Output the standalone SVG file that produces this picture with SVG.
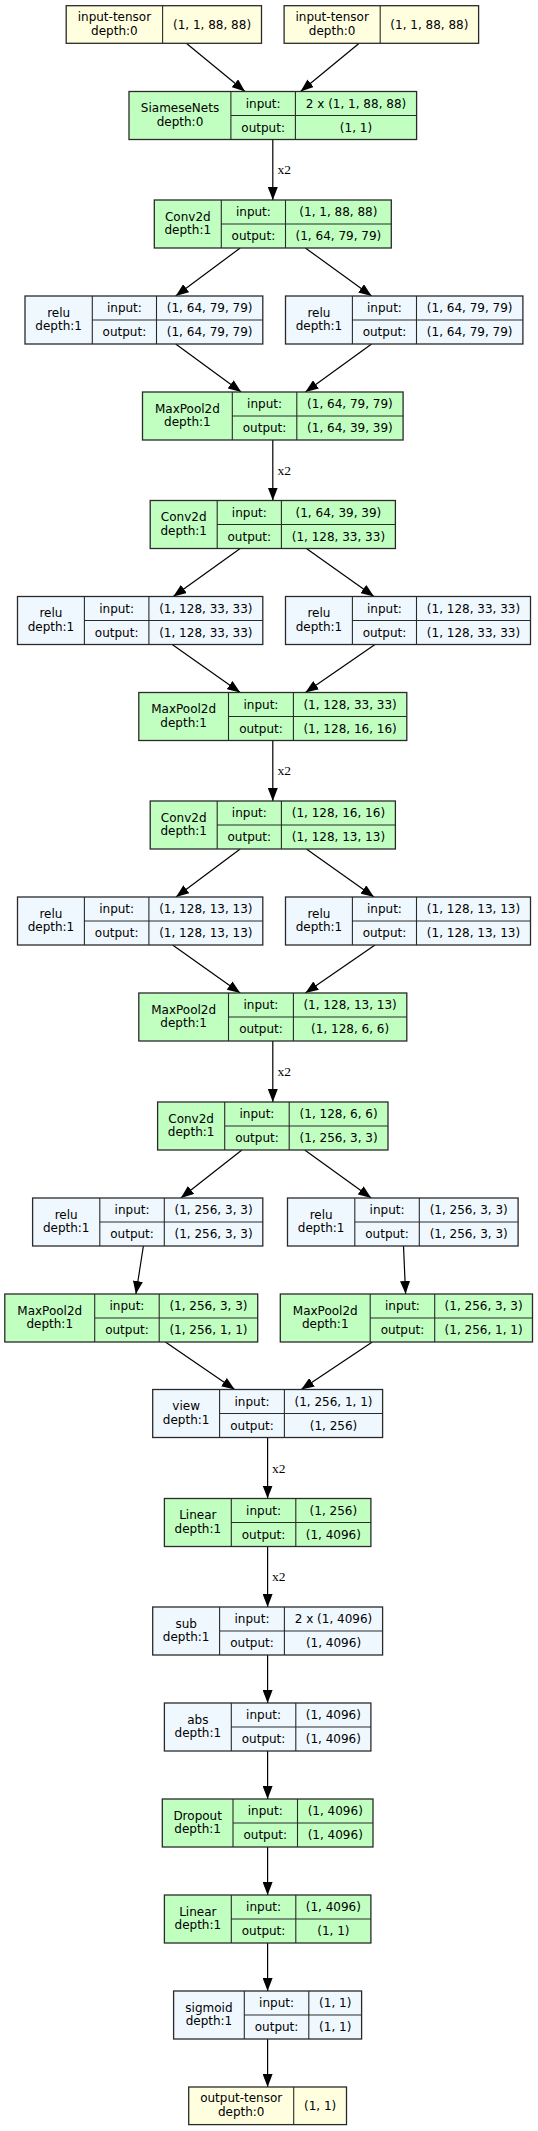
<svg xmlns="http://www.w3.org/2000/svg" width="538" height="2131" viewBox="0 0 538 2131">
<style>
.g{fill:#c1ffc1;stroke:#2a2a2a;stroke-width:1.3}
.b{fill:#f0f8ff;stroke:#2a2a2a;stroke-width:1.3}
.y{fill:#ffffe0;stroke:#2a2a2a;stroke-width:1.3}
.d{fill:none;stroke:#2a2a2a;stroke-width:1.1}
text{font-family:"DejaVu Sans","Liberation Sans",sans-serif;font-size:12px;text-anchor:middle;fill:#000}
.e line{stroke:#000;stroke-width:1.2;marker-end:url(#ah)}
.e text{font-family:"Liberation Serif","DejaVu Serif",serif;font-size:13.5px;text-anchor:start}
</style>
<defs>
<marker id="ah" markerUnits="userSpaceOnUse" markerWidth="13" markerHeight="10" refX="13" refY="5" orient="auto"><path d="M0,0 L13,5 L0,10 z" fill="#000"/></marker>
</defs>
<rect width="538" height="2131" fill="#fff"/>

<g id="edges" class="e">
<line x1="186.3" y1="43.3" x2="245" y2="91.5"/>
<line x1="359.2" y1="43.3" x2="300.6" y2="91.5"/>
<line x1="272.8" y1="139.5" x2="272.8" y2="200"/><text x="277.5" y="174">x2</text>
<line x1="240.2" y1="248" x2="175.7" y2="296"/>
<line x1="305.4" y1="248" x2="371.6" y2="296"/>
<line x1="175.7" y1="344" x2="241.2" y2="392"/>
<line x1="371.6" y1="344" x2="305.4" y2="392"/>
<line x1="272.8" y1="440" x2="272.8" y2="500.5"/><text x="277.5" y="474.5">x2</text>
<line x1="240.2" y1="548.5" x2="173.3" y2="596.5"/>
<line x1="306.4" y1="548.5" x2="374" y2="596.5"/>
<line x1="172.2" y1="644.5" x2="240.2" y2="692.5"/>
<line x1="375" y1="644.5" x2="305.4" y2="692.5"/>
<line x1="272.8" y1="740.5" x2="272.8" y2="801"/><text x="277.5" y="775">x2</text>
<line x1="240.2" y1="849" x2="176" y2="897"/>
<line x1="306.4" y1="849" x2="374" y2="897"/>
<line x1="172.6" y1="945" x2="240.2" y2="993"/>
<line x1="375" y1="945" x2="305.4" y2="993"/>
<line x1="272.8" y1="1041" x2="272.8" y2="1102"/><text x="277.5" y="1076">x2</text>
<line x1="241.9" y1="1150" x2="180.8" y2="1198"/>
<line x1="304.7" y1="1150" x2="371.2" y2="1198"/>
<line x1="143.4" y1="1246" x2="135.9" y2="1294"/>
<line x1="403.5" y1="1246" x2="405.6" y2="1294"/>
<line x1="165.4" y1="1342" x2="234.7" y2="1389.5"/>
<line x1="372.3" y1="1342" x2="301.2" y2="1389.5"/>
<line x1="267.6" y1="1437.5" x2="267.6" y2="1498.5"/><text x="272" y="1472.5">x2</text>
<line x1="267.6" y1="1546.5" x2="267.6" y2="1607"/><text x="272" y="1581">x2</text>
<line x1="267.6" y1="1655" x2="267.6" y2="1703"/>
<line x1="267.6" y1="1751" x2="267.6" y2="1799"/>
<line x1="267.6" y1="1847" x2="267.6" y2="1895"/>
<line x1="267.6" y1="1943" x2="267.6" y2="1991"/>
<line x1="267.6" y1="2039" x2="267.6" y2="2087"/>
</g>

<g id="input1"><rect class="y" x="66.2" y="5.7" width="195.3" height="37.6"/><path class="d" d="M162.6 5.7V43.3"/>
<text x="114.4" y="21">input-tensor</text><text x="114.4" y="34.5">depth:0</text><text x="212.05" y="28.5">(1, 1, 88, 88)</text></g>
<g id="input2"><rect class="y" x="284.1" y="5.7" width="194.5" height="37.6"/><path class="d" d="M380.2 5.7V43.3"/>
<text x="332.15" y="21">input-tensor</text><text x="332.15" y="34.5">depth:0</text><text x="429.4" y="28.5">(1, 1, 88, 88)</text></g>

<g id="siamese"><rect class="g" x="129" y="91.5" width="287.6" height="48"/><path class="d" d="M230.9 91.5V139.5M295.4 91.5V139.5M230.9 115.5H416.6"/>
<text x="180" y="112">SiameseNets</text><text x="180" y="125.5">depth:0</text>
<text x="263.15" y="107.5">input:</text><text x="263.15" y="131.5">output:</text>
<text x="356" y="107.5">2 x (1, 1, 88, 88)</text><text x="356" y="131.5">(1, 1)</text></g>

<g id="conv1"><rect class="g" x="154.3" y="200" width="237" height="48"/><path class="d" d="M221.3 200V248M285.5 200V248M221.3 224H391.3"/>
<text x="187.8" y="220.5">Conv2d</text><text x="187.8" y="234">depth:1</text>
<text x="253.4" y="216">input:</text><text x="253.4" y="240">output:</text>
<text x="338.4" y="216">(1, 1, 88, 88)</text><text x="338.4" y="240">(1, 64, 79, 79)</text></g>

<g id="relu1a"><rect class="b" x="25" y="296" width="237.8" height="48"/><path class="d" d="M92.3 296V344M156.5 296V344M92.3 320H262.8"/>
<text x="58.65" y="316.5">relu</text><text x="58.65" y="330">depth:1</text>
<text x="124.4" y="312">input:</text><text x="124.4" y="336">output:</text>
<text x="209.65" y="312">(1, 64, 79, 79)</text><text x="209.65" y="336">(1, 64, 79, 79)</text></g>
<g id="relu1b"><rect class="b" x="285.5" y="296" width="237.4" height="48"/><path class="d" d="M352.4 296V344M416.5 296V344M352.4 320H522.9"/>
<text x="318.95" y="316.5">relu</text><text x="318.95" y="330">depth:1</text>
<text x="384.45" y="312">input:</text><text x="384.45" y="336">output:</text>
<text x="469.7" y="312">(1, 64, 79, 79)</text><text x="469.7" y="336">(1, 64, 79, 79)</text></g>

<g id="maxpool1"><rect class="g" x="142.5" y="392" width="260.6" height="48"/><path class="d" d="M232.3 392V440M296.8 392V440M232.3 416H403.1"/>
<text x="187.4" y="412.5">MaxPool2d</text><text x="187.4" y="426">depth:1</text>
<text x="264.55" y="408">input:</text><text x="264.55" y="432">output:</text>
<text x="349.95" y="408">(1, 64, 79, 79)</text><text x="349.95" y="432">(1, 64, 39, 39)</text></g>

<g id="conv2"><rect class="g" x="150.2" y="500.5" width="245.2" height="48"/><path class="d" d="M217.2 500.5V548.5M281.4 500.5V548.5M217.2 524.5H395.4"/>
<text x="183.7" y="521">Conv2d</text><text x="183.7" y="534.5">depth:1</text>
<text x="249.3" y="516.5">input:</text><text x="249.3" y="540.5">output:</text>
<text x="338.4" y="516.5">(1, 64, 39, 39)</text><text x="338.4" y="540.5">(1, 128, 33, 33)</text></g>

<g id="relu2a"><rect class="b" x="17.5" y="596.5" width="245.3" height="48"/><path class="d" d="M84.4 596.5V644.5M148.9 596.5V644.5M84.4 620.5H262.8"/>
<text x="50.95" y="617">relu</text><text x="50.95" y="630.5">depth:1</text>
<text x="116.65" y="612.5">input:</text><text x="116.65" y="636.5">output:</text>
<text x="205.85" y="612.5">(1, 128, 33, 33)</text><text x="205.85" y="636.5">(1, 128, 33, 33)</text></g>
<g id="relu2b"><rect class="b" x="285.5" y="596.5" width="245" height="48"/><path class="d" d="M352.4 596.5V644.5M416.5 596.5V644.5M352.4 620.5H530.5"/>
<text x="318.95" y="617">relu</text><text x="318.95" y="630.5">depth:1</text>
<text x="384.45" y="612.5">input:</text><text x="384.45" y="636.5">output:</text>
<text x="473.5" y="612.5">(1, 128, 33, 33)</text><text x="473.5" y="636.5">(1, 128, 33, 33)</text></g>

<g id="maxpool2"><rect class="g" x="138.8" y="692.5" width="268" height="48"/><path class="d" d="M228.5 692.5V740.5M293.4 692.5V740.5M228.5 716.5H406.8"/>
<text x="183.65" y="713">MaxPool2d</text><text x="183.65" y="726.5">depth:1</text>
<text x="260.95" y="708.5">input:</text><text x="260.95" y="732.5">output:</text>
<text x="350.1" y="708.5">(1, 128, 33, 33)</text><text x="350.1" y="732.5">(1, 128, 16, 16)</text></g>

<g id="conv3"><rect class="g" x="150.2" y="801" width="245.2" height="48"/><path class="d" d="M217.2 801V849M281.4 801V849M217.2 825H395.4"/>
<text x="183.7" y="821.5">Conv2d</text><text x="183.7" y="835">depth:1</text>
<text x="249.3" y="817">input:</text><text x="249.3" y="841">output:</text>
<text x="338.4" y="817">(1, 128, 16, 16)</text><text x="338.4" y="841">(1, 128, 13, 13)</text></g>

<g id="relu3a"><rect class="b" x="17.5" y="897" width="245.3" height="48"/><path class="d" d="M84.4 897V945M148.9 897V945M84.4 921H262.8"/>
<text x="50.95" y="917.5">relu</text><text x="50.95" y="931">depth:1</text>
<text x="116.65" y="913">input:</text><text x="116.65" y="937">output:</text>
<text x="205.85" y="913">(1, 128, 13, 13)</text><text x="205.85" y="937">(1, 128, 13, 13)</text></g>
<g id="relu3b"><rect class="b" x="285.5" y="897" width="245" height="48"/><path class="d" d="M352.4 897V945M416.5 897V945M352.4 921H530.5"/>
<text x="318.95" y="917.5">relu</text><text x="318.95" y="931">depth:1</text>
<text x="384.45" y="913">input:</text><text x="384.45" y="937">output:</text>
<text x="473.5" y="913">(1, 128, 13, 13)</text><text x="473.5" y="937">(1, 128, 13, 13)</text></g>

<g id="maxpool3"><rect class="g" x="138.8" y="993" width="268" height="48"/><path class="d" d="M228.5 993V1041M293.4 993V1041M228.5 1017H406.8"/>
<text x="183.65" y="1013.5">MaxPool2d</text><text x="183.65" y="1027">depth:1</text>
<text x="260.95" y="1009">input:</text><text x="260.95" y="1033">output:</text>
<text x="350.1" y="1009">(1, 128, 13, 13)</text><text x="350.1" y="1033">(1, 128, 6, 6)</text></g>

<g id="conv4"><rect class="g" x="157.6" y="1102" width="230.4" height="48"/><path class="d" d="M224.7 1102V1150M289.2 1102V1150M224.7 1126H388"/>
<text x="191.15" y="1122.5">Conv2d</text><text x="191.15" y="1136">depth:1</text>
<text x="256.95" y="1118">input:</text><text x="256.95" y="1142">output:</text>
<text x="338.6" y="1118">(1, 128, 6, 6)</text><text x="338.6" y="1142">(1, 256, 3, 3)</text></g>

<g id="relu4a"><rect class="b" x="32.6" y="1198" width="230.2" height="48"/><path class="d" d="M99.8 1198V1246M164.3 1198V1246M99.8 1222H262.8"/>
<text x="66.2" y="1218.5">relu</text><text x="66.2" y="1232">depth:1</text>
<text x="132.05" y="1214">input:</text><text x="132.05" y="1238">output:</text>
<text x="213.55" y="1214">(1, 256, 3, 3)</text><text x="213.55" y="1238">(1, 256, 3, 3)</text></g>
<g id="relu4b"><rect class="b" x="287.5" y="1198" width="230.6" height="48"/><path class="d" d="M354.8 1198V1246M419.3 1198V1246M354.8 1222H518.1"/>
<text x="321.15" y="1218.5">relu</text><text x="321.15" y="1232">depth:1</text>
<text x="387.05" y="1214">input:</text><text x="387.05" y="1238">output:</text>
<text x="468.7" y="1214">(1, 256, 3, 3)</text><text x="468.7" y="1238">(1, 256, 3, 3)</text></g>

<g id="maxpool4a"><rect class="g" x="4.8" y="1294" width="252.9" height="48"/><path class="d" d="M94.7 1294V1342M159.2 1294V1342M94.7 1318H257.7"/>
<text x="49.75" y="1314.5">MaxPool2d</text><text x="49.75" y="1328">depth:1</text>
<text x="126.95" y="1310">input:</text><text x="126.95" y="1334">output:</text>
<text x="208.45" y="1310">(1, 256, 3, 3)</text><text x="208.45" y="1334">(1, 256, 1, 1)</text></g>
<g id="maxpool4b"><rect class="g" x="280.3" y="1294" width="252.2" height="48"/><path class="d" d="M370.2 1294V1342M434.7 1294V1342M370.2 1318H532.5"/>
<text x="325.25" y="1314.5">MaxPool2d</text><text x="325.25" y="1328">depth:1</text>
<text x="402.45" y="1310">input:</text><text x="402.45" y="1334">output:</text>
<text x="483.6" y="1310">(1, 256, 3, 3)</text><text x="483.6" y="1334">(1, 256, 1, 1)</text></g>

<g id="view"><rect class="b" x="152.7" y="1389.5" width="229.9" height="48"/><path class="d" d="M219.6 1389.5V1437.5M284.4 1389.5V1437.5M219.6 1413.5H382.6"/>
<text x="186.15" y="1410">view</text><text x="186.15" y="1423.5">depth:1</text>
<text x="252" y="1405.5">input:</text><text x="252" y="1429.5">output:</text>
<text x="333.5" y="1405.5">(1, 256, 1, 1)</text><text x="333.5" y="1429.5">(1, 256)</text></g>

<g id="linear1"><rect class="g" x="164.4" y="1498.5" width="206.5" height="48"/><path class="d" d="M231.3 1498.5V1546.5M295.8 1498.5V1546.5M231.3 1522.5H370.9"/>
<text x="197.85" y="1519">Linear</text><text x="197.85" y="1532.5">depth:1</text>
<text x="263.55" y="1514.5">input:</text><text x="263.55" y="1538.5">output:</text>
<text x="333.35" y="1514.5">(1, 256)</text><text x="333.35" y="1538.5">(1, 4096)</text></g>

<g id="sub"><rect class="b" x="152.7" y="1607" width="229.9" height="48"/><path class="d" d="M219.6 1607V1655M284.4 1607V1655M219.6 1631H382.6"/>
<text x="186.15" y="1627.5">sub</text><text x="186.15" y="1641">depth:1</text>
<text x="252" y="1623">input:</text><text x="252" y="1647">output:</text>
<text x="333.5" y="1623">2 x (1, 4096)</text><text x="333.5" y="1647">(1, 4096)</text></g>

<g id="abs"><rect class="b" x="164.4" y="1703" width="206.5" height="48"/><path class="d" d="M231.3 1703V1751M295.8 1703V1751M231.3 1727H370.9"/>
<text x="197.85" y="1723.5">abs</text><text x="197.85" y="1737">depth:1</text>
<text x="263.55" y="1719">input:</text><text x="263.55" y="1743">output:</text>
<text x="333.35" y="1719">(1, 4096)</text><text x="333.35" y="1743">(1, 4096)</text></g>

<g id="dropout"><rect class="g" x="162.3" y="1799" width="210.7" height="48"/><path class="d" d="M233 1799V1847M297.5 1799V1847M233 1823H373"/>
<text x="197.65" y="1819.5">Dropout</text><text x="197.65" y="1833">depth:1</text>
<text x="265.25" y="1815">input:</text><text x="265.25" y="1839">output:</text>
<text x="335.25" y="1815">(1, 4096)</text><text x="335.25" y="1839">(1, 4096)</text></g>

<g id="linear2"><rect class="g" x="164.4" y="1895" width="206.5" height="48"/><path class="d" d="M231.3 1895V1943M295.8 1895V1943M231.3 1919H370.9"/>
<text x="197.85" y="1915.5">Linear</text><text x="197.85" y="1929">depth:1</text>
<text x="263.55" y="1911">input:</text><text x="263.55" y="1935">output:</text>
<text x="333.35" y="1911">(1, 4096)</text><text x="333.35" y="1935">(1, 1)</text></g>

<g id="sigmoid"><rect class="b" x="173.6" y="1991" width="188" height="48"/><path class="d" d="M244.3 1991V2039M308.8 1991V2039M244.3 2015H361.6"/>
<text x="208.95" y="2011.5">sigmoid</text><text x="208.95" y="2025">depth:1</text>
<text x="276.55" y="2007">input:</text><text x="276.55" y="2031">output:</text>
<text x="335.2" y="2007">(1, 1)</text><text x="335.2" y="2031">(1, 1)</text></g>

<g id="output"><rect class="y" x="188.7" y="2087" width="157.8" height="37.6"/><path class="d" d="M293.7 2087V2124.6"/>
<text x="241.2" y="2102.3">output-tensor</text><text x="241.2" y="2115.8">depth:0</text><text x="320.1" y="2109.8">(1, 1)</text></g>
</svg>
